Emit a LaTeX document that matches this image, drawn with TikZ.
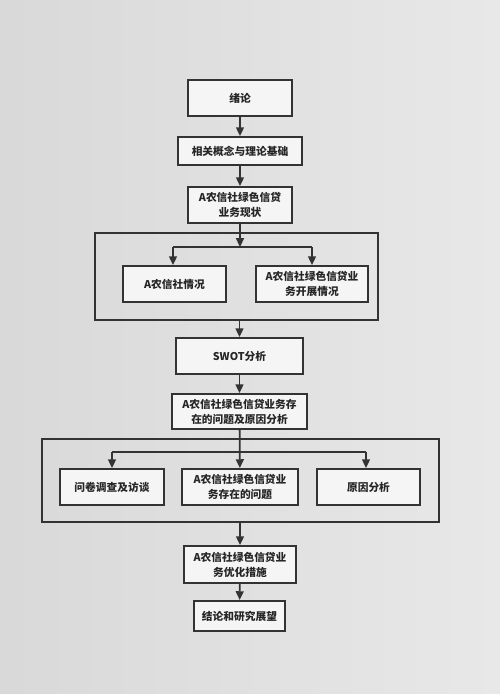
\documentclass[tikz,border=0pt]{standalone}
\usepackage{fontspec}
\setmainfont{Noto Sans CJK SC}
\usetikzlibrary{arrows.meta}
\begin{document}
\begin{tikzpicture}[x=0.02cm, y=-0.02cm,
    box/.style={draw=black!80, line width=1.1pt, fill=gray!8, align=center, inner sep=0pt,
        text=black!85, font=\fontsize{6.1}{8.5}\selectfont\bfseries},
    grp/.style={draw=black!80, line width=1.1pt, inner sep=0pt},
    arr/.style={-{Triangle[length=5pt, width=4.5pt]}, line width=1pt, draw=black!80},
    lnk/.style={line width=1pt, draw=black!80}]
    \def\F{0.02cm}; % one pixel of the reference
    \shade[left color=gray!30, middle color=gray!4, right color=gray!18] (0,0) rectangle (500,694);

    % the two frames round the branches
    \node[grp, minimum width=283*\F, minimum height=87*\F] (g1) at (236.5,276.5) {};
    \node[grp, minimum width=397*\F, minimum height=83*\F] (g2) at (240.5,480.5) {};

    % main column
    \node[box, minimum width=104*\F, minimum height=36*\F] (intro) at (240,98) {绪论};
    \node[box, minimum width=124*\F, minimum height=28*\F] (theory) at (240,151) {相关概念与理论基础};
    \node[box, minimum width=104*\F, minimum height=36*\F] (status) at (240,205) {A农信社绿色信贷\\业务现状};
    \node[box, minimum width=127*\F, minimum height=36*\F] (swot) at (239.5,356) {SWOT分析};
    \node[box, minimum width=135*\F, minimum height=35*\F] (issue) at (239.5,411.5) {A农信社绿色信贷业务存\\在的问题及原因分析};
    \node[box, minimum width=112*\F, minimum height=37*\F] (optim) at (240,564.5) {A农信社绿色信贷业\\务优化措施};
    \node[box, minimum width=91*\F, minimum height=30*\F] (concl) at (239.5,616) {结论和研究展望};

    % branches
    \node[box, minimum width=103*\F, minimum height=36*\F] (bank) at (174.5,284) {A农信社情况};
    \node[box, minimum width=112*\F, minimum height=36*\F] (develop) at (312,284) {A农信社绿色信贷业\\务开展情况};
    \node[box, minimum width=104*\F, minimum height=36*\F] (survey) at (112,487) {问卷调查及访谈};
    \node[box, minimum width=116*\F, minimum height=36*\F] (problem) at (240,487) {A农信社绿色信贷业\\务存在的问题};
    \node[box, minimum width=103*\F, minimum height=36*\F] (cause) at (368.5,487) {原因分析};

    \coordinate (j1) at (240,247);
    \coordinate (j1l) at (173,247);
    \coordinate (j1r) at (312,247);
    \coordinate (j2l) at (112,452);
    \coordinate (j2r) at (366,452);

    \draw[arr] (intro) -- (theory);
    \draw[arr] (theory) -- (status);
    \draw[arr] (status) -- (j1);
    \draw[lnk] (j1l) -- (j1r);
    \draw[arr] (j1l) -- (j1l |- bank.north);
    \draw[arr] (j1r) -- (j1r |- develop.north);
    \draw[arr] (g1.south -| swot) -- (swot);
    \draw[arr] (swot) -- (issue);
    \draw[arr] (issue) -- (problem);
    \draw[lnk] (j2l) -- (j2r);
    \draw[arr] (j2l) -- (j2l |- survey.north);
    \draw[arr] (j2r) -- (j2r |- cause.north);
    \draw[arr] (g2.south -| optim) -- (optim);
    \draw[arr] (optim) -- (concl);
\end{tikzpicture}
\end{document}
